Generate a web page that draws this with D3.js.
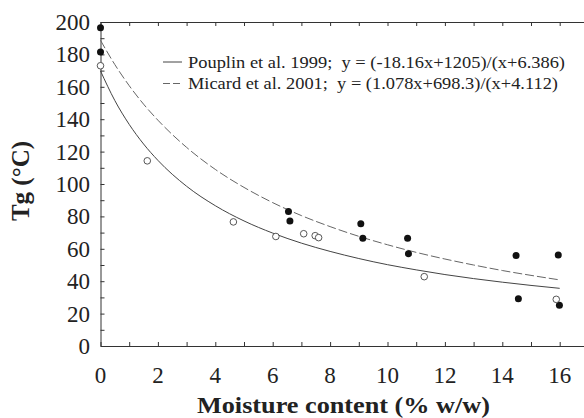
<!DOCTYPE html>
<html>
<head>
<meta charset="utf-8">
<script src="https://cdn.jsdelivr.net/npm/d3@7"></script>
<style>
  body { margin: 0; background: #fff; }
  text { font-family: "Liberation Serif", "Times New Roman", serif; fill: #222; white-space: pre; }
</style>
</head>
<body>
<div id="chart"></div>
<script>
// Data
var filledX = [0, 0, 6.55, 6.6, 9.07, 9.14, 10.7, 10.73, 14.48, 14.56, 15.95, 15.99];
var filledY = [196.5, 181.5, 83, 77.2, 75.5, 66.5, 66.5, 57, 55.8, 29.2, 56.2, 25.1];
var openX = [0, 1.63, 4.63, 6.11, 7.08, 7.48, 7.6, 11.28, 15.88];
var openY = [173, 114.3, 76.6, 67.6, 69.3, 68.1, 66.9, 42.8, 28.8];

// fitted curves, sampled from the figure
var curveX = [0, 0.5, 1, 1.5, 2, 3, 4, 5, 6, 7, 8, 9, 10, 11, 12, 13, 14, 15, 16];
var solidY = [169.8, 151.5, 136.8, 124.7, 114.6, 98.6, 86.6, 77.2, 69.7, 63.5, 58.4, 54.0, 50.2, 47.0, 44.1, 41.6, 39.4, 37.4, 35.6];
var dashedY = [188.7, 173.7, 160.7, 149.3, 139.4, 122.6, 109.0, 97.9, 88.5, 80.5, 73.7, 67.7, 62.5, 57.8, 53.7, 50.0, 46.6, 43.6, 40.8];

var xTicks = [0, 2, 4, 6, 8, 10, 12, 14, 16];
var yTicks = [0, 20, 40, 60, 80, 100, 120, 140, 160, 180, 200];
var legendLabels = [
  "Pouplin et al. 1999;  y = (-18.16x+1205)/(x+6.386)",
  "Micard et al. 2001;  y = (1.078x+698.3)/(x+4.112)"
];

var svgWidth = 584;
var svgHeight = 418;

var svg = d3.select("#chart")
  .append("svg")
  .attr("width", svgWidth)
  .attr("height", svgHeight);

var x = d3.scaleLinear().domain([0, 17]).range([100.5, 100.5 + 17 * 28.7]);
var y = d3.scaleLinear().domain([0, 200]).range([346, 22]);

var axisColor = "#333";

// axes with inward ticks
var bottomAxis = d3.axisBottom(x).tickValues(d3.range(0, 17)).tickSize(-4).tickSizeOuter(0).tickFormat("");
var topAxis = d3.axisTop(x).tickValues(d3.range(0, 17)).tickSize(-4).tickSizeOuter(0).tickFormat("");
var leftAxis = d3.axisLeft(y).tickValues(d3.range(0, 201, 10)).tickSize(-4).tickSizeOuter(0).tickFormat("");

svg.append("g").attr("transform", `translate(0, ${y(0)})`).call(bottomAxis);
svg.append("g").attr("transform", `translate(0, ${y(200)})`).call(topAxis);
svg.append("g").attr("transform", `translate(${x(0)}, 0)`).call(leftAxis);

svg.selectAll(".domain, .tick line").attr("stroke", axisColor).attr("stroke-width", 1);

// tick labels
svg.selectAll(".xlab")
  .data(xTicks)
  .enter()
  .append("text")
  .attr("x", d => x(d))
  .attr("y", 383)
  .attr("text-anchor", "middle")
  .attr("font-size", 23)
  .text(d => d);

svg.selectAll(".ylab")
  .data(yTicks)
  .enter()
  .append("text")
  .attr("x", 90)
  .attr("y", d => y(d) + 8)
  .attr("text-anchor", "end")
  .attr("font-size", 23)
  .text(d => d);

// curves
var line = d3.line()
  .x((d, i) => x(curveX[i]))
  .y(d => y(d))
  .curve(d3.curveMonotoneX);

svg.append("path")
  .attr("d", line(solidY))
  .attr("fill", "none")
  .attr("stroke", "#444")
  .attr("stroke-width", 1);

svg.append("path")
  .attr("d", line(dashedY))
  .attr("fill", "none")
  .attr("stroke", "#666")
  .attr("stroke-width", 1)
  .attr("stroke-dasharray", "9,3");

// points
svg.selectAll(".filled")
  .data(filledX)
  .enter()
  .append("circle")
  .attr("cx", d => x(d))
  .attr("cy", (d, i) => y(filledY[i]))
  .attr("r", 3.5)
  .attr("fill", "#111");

svg.selectAll(".open")
  .data(openX)
  .enter()
  .append("circle")
  .attr("cx", d => x(d))
  .attr("cy", (d, i) => y(openY[i]))
  .attr("r", 3.3)
  .attr("fill", "#fff")
  .attr("stroke", "#444")
  .attr("stroke-width", 0.9);

// legend
var legend = svg.append("g");
legend.append("line")
  .attr("x1", 163).attr("x2", 182).attr("y1", 62).attr("y2", 62)
  .attr("stroke", "#444");
legend.append("line")
  .attr("x1", 163).attr("x2", 182).attr("y1", 83.5).attr("y2", 83.5)
  .attr("stroke", "#666").attr("stroke-dasharray", "7,3");
legend.selectAll("text")
  .data(legendLabels)
  .enter()
  .append("text")
  .attr("x", 188)
  .attr("y", (d, i) => 67.5 + i * 21.5)
  .attr("font-size", 16.5)
  .attr("textLength", (d, i) => i === 0 ? 377 : 370)
  .attr("lengthAdjust", "spacingAndGlyphs")
  .text(d => d);

// axis titles
svg.append("text")
  .attr("x", 197)
  .attr("y", 413)
  .attr("font-size", 24)
  .attr("font-weight", "bold")
  .attr("textLength", 293)
  .attr("lengthAdjust", "spacingAndGlyphs")
  .text("Moisture content (% w/w)");

svg.append("text")
  .attr("transform", "translate(29, 181) rotate(-90)")
  .attr("text-anchor", "middle")
  .attr("font-size", 25)
  .attr("font-weight", "bold")
  .text("Tg (°C)");
</script>
</body>
</html>
